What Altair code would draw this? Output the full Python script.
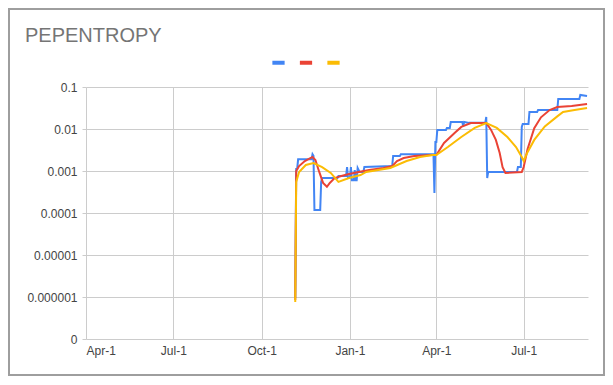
import altair as alt
import pandas as pd

# ---- data ----
blue_dates = ["2021-11-05","2021-11-06","2021-11-07","2021-11-08","2021-11-22","2021-11-23","2021-11-24",
              "2021-11-25","2021-12-01","2021-12-02","2021-12-03","2021-12-19","2021-12-20","2021-12-28",
              "2021-12-29","2021-12-30","2022-01-01","2022-01-02","2022-01-03","2022-01-05","2022-01-06",
              "2022-01-07","2022-01-08","2022-01-09","2022-01-11","2022-01-15","2022-01-16","2022-02-14",
              "2022-02-15","2022-02-22","2022-02-23","2022-03-29","2022-03-30","2022-03-31","2022-04-01",
              "2022-04-02","2022-04-11","2022-04-12","2022-04-15","2022-04-16","2022-04-28","2022-04-29",
              "2022-04-30","2022-05-05","2022-05-22","2022-05-23","2022-05-24","2022-05-25","2022-06-24",
              "2022-06-25","2022-06-28","2022-06-29","2022-06-30","2022-07-06","2022-07-07","2022-07-15",
              "2022-07-16","2022-08-05","2022-08-06","2022-08-28","2022-08-29","2022-09-05"]
blue_values = [9.5e-7,0.00112,0.00112,0.0019,0.0019,0.0025,0.0023,
               0.000118,0.000118,0.00055,0.00068,0.00068,0.00076,0.00076,
               0.00124,0.00068,0.0007,0.00124,0.0006,0.0006,0.00105,
               0.0006,0.0006,0.00118,0.00095,0.00095,0.00124,0.00131,
               0.00228,0.00228,0.0025,0.0025,0.0003,0.0049,0.0049,
               0.0095,0.0095,0.0106,0.0106,0.0147,0.0147,0.0118,
               0.0147,0.014,0.014,0.0193,0.00068,0.00095,0.00095,
               0.00124,0.00124,0.0112,0.0132,0.0132,0.0254,0.0254,
               0.0283,0.0283,0.0518,0.0518,0.0645,0.061]

red_dates = ["2021-11-05","2021-11-06","2021-11-09","2021-11-15","2021-11-23","2021-11-26","2021-11-30",
             "2021-12-04","2021-12-08","2021-12-11","2021-12-16","2021-12-23","2021-12-31","2022-01-10",
             "2022-01-21","2022-02-05","2022-02-14","2022-02-19","2022-02-26","2022-03-09","2022-03-28",
             "2022-04-01","2022-04-09","2022-04-20","2022-04-27","2022-05-07","2022-05-23","2022-05-28",
             "2022-06-02","2022-06-06","2022-06-09","2022-06-12","2022-06-29","2022-07-01","2022-07-05",
             "2022-07-12","2022-07-19","2022-07-28","2022-08-05","2022-08-20","2022-09-05"]
red_values = [8.5e-7,0.0010,0.00131,0.00173,0.00216,0.00183,0.00095,
              0.00052,0.00042,0.00052,0.00068,0.00076,0.00085,0.00095,
              0.00106,0.00118,0.00131,0.00173,0.00204,0.00228,0.0024,
              0.0024,0.00464,0.008,0.0112,0.0139,0.0139,0.0095,
              0.0055,0.00268,0.00124,0.0009,0.00095,0.00124,0.0033,
              0.0105,0.019,0.0283,0.0334,0.0353,0.0394]

yellow_dates = ["2021-11-05","2021-11-06","2021-11-09","2021-11-16","2021-11-24","2021-12-03","2021-12-12",
                "2021-12-20","2021-12-31","2022-01-12","2022-01-18","2022-02-12","2022-03-01","2022-03-15",
                "2022-03-28","2022-04-01","2022-04-13","2022-04-27","2022-05-11","2022-05-23","2022-06-03",
                "2022-06-14","2022-06-23","2022-06-29","2022-07-01","2022-07-05","2022-07-12","2022-07-23",
                "2022-08-05","2022-08-11","2022-08-23","2022-09-05"]
yellow_values = [7.6e-7,0.00055,0.00095,0.00139,0.00155,0.00124,0.0009,
                 0.00055,0.00068,0.0008,0.00095,0.00118,0.00173,0.00216,
                 0.0024,0.0024,0.00373,0.00645,0.0106,0.0139,0.0106,
                 0.00645,0.00373,0.00216,0.00173,0.0028,0.0055,0.0115,
                 0.02,0.0254,0.0283,0.0316]

series_names = ["s1", "s2", "s3"]
series_colors = ["#4285F4", "#EA4335", "#FBBC04"]
y_ticks = [1e-7, 1e-6, 1e-5, 1e-4, 1e-3, 1e-2, 1e-1]
title_text = "PEPENTROPY"

frames = []
for name, d, v in zip(series_names, [blue_dates, red_dates, yellow_dates],
                      [blue_values, red_values, yellow_values]):
    frames.append(pd.DataFrame({"date": d, "value": v, "series": name}))
df = pd.concat(frames, ignore_index=True)

x_ticks = [alt.DateTime(year=2021, month=4, date=1, utc=True),
           alt.DateTime(year=2021, month=7, date=1, utc=True),
           alt.DateTime(year=2021, month=10, date=1, utc=True),
           alt.DateTime(year=2022, month=1, date=1, utc=True),
           alt.DateTime(year=2022, month=4, date=1, utc=True),
           alt.DateTime(year=2022, month=7, date=1, utc=True)]

FONT = "Liberation Sans"

lines = alt.Chart(df).mark_line(strokeWidth=2).encode(
    x=alt.X("date:T",
            scale=alt.Scale(type="utc",
                            domain=[alt.DateTime(year=2021, month=4, date=1, utc=True),
                                    alt.DateTime(year=2022, month=9, date=6, utc=True)]),
            axis=alt.Axis(values=x_ticks, title=None,
                          labelExpr="utcFormat(datum.value, '%b-%-d')",
                          grid=True, gridColor="#cccccc", ticks=False, domain=False,
                          labelPadding=6, labelColor="#444444", labelFont=FONT,
                          labelFontSize=12, labelOverlap=False)),
    y=alt.Y("value:Q",
            scale=alt.Scale(type="log", domain=[1e-7, 0.1]),
            axis=alt.Axis(values=y_ticks, title=None, grid=True, gridColor="#cccccc",
                          tickColor="#cccccc", tickSize=4, domain=False, labelPadding=5,
                          labelColor="#444444", labelFont=FONT, labelFontSize=12,
                          labelExpr="datum.value < 5e-7 ? '0' : format(datum.value, '~f')")),
    color=alt.Color("series:N",
                    scale=alt.Scale(domain=series_names, range=series_colors),
                    legend=alt.Legend(orient="none", legendX=184, legendY=-33,
                                      direction="horizontal", title=None,
                                      labelExpr="''", labelOffset=0, labelFontSize=1,
                                      columnPadding=-1.5,
                                      symbolType="stroke", symbolSize=150,
                                      symbolStrokeWidth=4)),
)

border = alt.Chart(pd.DataFrame({"k": [0]})).mark_rect(
    fill="transparent", stroke="#9e9e9e", strokeWidth=2
).encode(x=alt.value(-77), x2=alt.value(518), y=alt.value(-78), y2=alt.value(288))

chart = alt.layer(lines, border).properties(
    width=502, height=252,
    autosize=alt.AutoSizeParams(type="none"),
    padding={"left": 78, "top": 79, "right": 17, "bottom": 38},
    title=alt.TitleParams(title_text, anchor="start", frame="group", dx=-61, dy=42,
                          font=FONT, fontSize=20, fontWeight="normal", color="#757575"),
).configure_view(stroke=None)

chart.save("out.html", embed_options={"renderer": "svg", "actions": False})
